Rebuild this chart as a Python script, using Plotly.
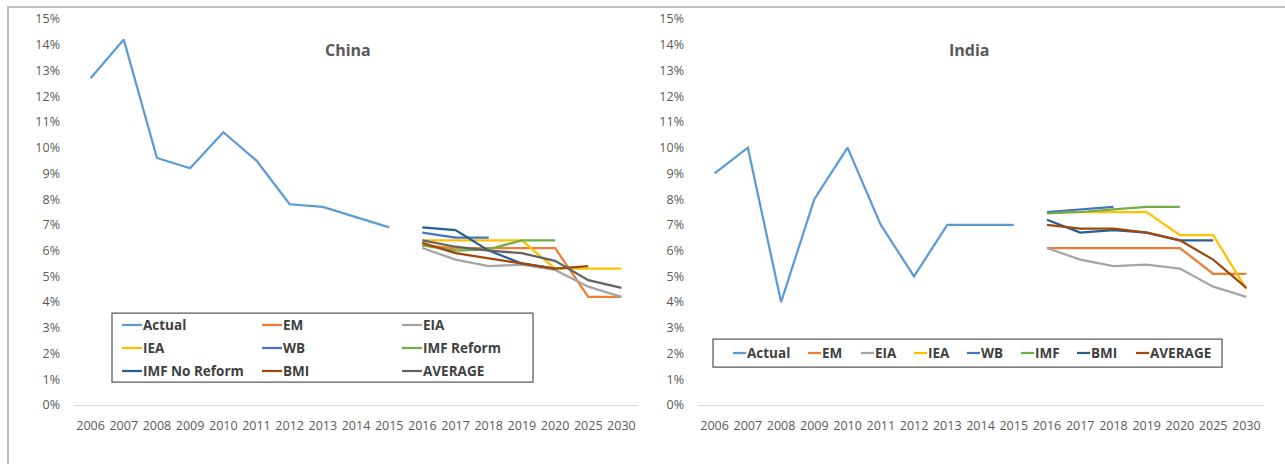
import plotly.graph_objects as go

# ---------------- data ----------------
years = ["2006", "2007", "2008", "2009", "2010", "2011", "2012", "2013", "2014",
         "2015", "2016", "2017", "2018", "2019", "2020", "2025", "2030"]
hist_years = years[:10]
fc_years = years[10:]

# China (growth, %)
china_actual = [12.7, 14.2, 9.6, 9.2, 10.6, 9.5, 7.8, 7.7, 7.3, 6.9]
china_em = [6.2, 6.1, 6.1, 6.1, 6.1, 4.2, 4.2]
china_eia = [6.1, 5.65, 5.4, 5.45, 5.25, 4.6, 4.2]
china_iea = [6.4, 6.4, 6.4, 6.4, 5.3, 5.3, 5.3]
china_wb = [6.7, 6.5, 6.5, None, None, None, None]
china_imf_reform = [6.2, 6.0, 6.05, 6.4, 6.4, None, None]
china_imf_noreform = [6.9, 6.8, 6.0, 5.5, 5.3, None, None]
china_bmi = [6.3, 5.9, 5.7, 5.5, 5.3, 5.4, None]
china_average = [6.4, 6.15, 6.0, 5.9, 5.6, 4.85, 4.55]

# India (growth, %)
india_actual = [9.0, 10.0, 4.0, 8.0, 10.0, 7.0, 5.0, 7.0, 7.0, 7.0]
india_em = [6.1, 6.1, 6.1, 6.1, 6.1, 5.1, 5.1]
india_eia = [6.1, 5.65, 5.4, 5.45, 5.3, 4.6, 4.2]
india_iea = [7.5, 7.5, 7.5, 7.5, 6.6, 6.6, 4.5]
india_wb = [7.5, 7.6, 7.7, None, None, None, None]
india_imf = [7.45, 7.5, 7.6, 7.7, 7.7, None, None]
india_bmi = [7.2, 6.7, 6.8, 6.7, 6.4, 6.4, None]
india_average = [7.0, 6.85, 6.85, 6.7, 6.4, 5.65, 4.55]

china_names = ["Actual", "EM", "EIA", "IEA", "WB", "IMF Reform",
               "IMF No Reform", "BMI", "AVERAGE"]
india_names = ["Actual", "EM", "EIA", "IEA", "WB", "IMF", "BMI", "AVERAGE"]

china_colors = ["#5B9BD5", "#ED7D31", "#A5A5A5", "#FFC000", "#4472C4",
                "#70AD47", "#255E91", "#9E480E", "#636363"]
india_colors = ["#5B9BD5", "#ED7D31", "#A5A5A5", "#FFC000", "#4472C4",
                "#70AD47", "#255E91", "#9E480E"]

y_ticks = list(range(0, 16))
y_ticktext = [f"{t}%" for t in y_ticks]

# ---------------- layout helpers ----------------
W, H = 1285, 464


def px(x):
    return x / W


def py(y):
    return 1 - y / H


FONT = "Open Sans"
TXT = "#595959"

fig = go.Figure()

china_series = [(hist_years, china_actual), (fc_years, china_em),
                (fc_years, china_eia), (fc_years, china_iea),
                (fc_years, china_wb), (fc_years, china_imf_reform),
                (fc_years, china_imf_noreform), (fc_years, china_bmi),
                (fc_years, china_average)]
india_series = [(hist_years, india_actual), (fc_years, india_em),
                (fc_years, india_eia), (fc_years, india_iea),
                (fc_years, india_wb), (fc_years, india_imf),
                (fc_years, india_bmi), (fc_years, india_average)]

for name, color, (xs, ys) in zip(china_names, china_colors, china_series):
    fig.add_trace(go.Scatter(x=xs, y=ys, mode="lines", name=name,
                             line=dict(color=color, width=2.25),
                             xaxis="x", yaxis="y", showlegend=False))
for name, color, (xs, ys) in zip(india_names, india_colors, india_series):
    fig.add_trace(go.Scatter(x=xs, y=ys, mode="lines", name=name,
                             line=dict(color=color, width=2.25),
                             xaxis="x2", yaxis="y2", showlegend=False))

tickfont = dict(family=FONT, size=12.5, color=TXT)
xcommon = dict(type="category", categoryorder="array", categoryarray=years,
               range=[-0.5, len(years) - 0.5], automargin=False,
               showgrid=False, showline=True, linecolor="#D9D9D9",
               linewidth=1, ticks="", tickfont=tickfont,
               ticklabelstandoff=9, zeroline=False, fixedrange=True)
ycommon = dict(range=[0, 15], tickvals=y_ticks, ticktext=y_ticktext,
               automargin=False,
               showgrid=False, showline=False, zeroline=False, ticks="",
               tickfont=tickfont, ticklabelstandoff=13, fixedrange=True)

shapes = []
annotations = []

# outer chart border (top + left visible)
shapes.append(dict(type="rect", xref="paper", yref="paper",
                   x0=px(8), x1=px(W + 20), y0=py(H + 20), y1=py(7),
                   line=dict(color="#BFBFBF", width=2), layer="below"))

# titles
annotations.append(dict(text="China", x=px(348), y=py(50), xref="paper",
                        yref="paper", showarrow=False, xanchor="center",
                        yanchor="middle",
                        font=dict(family=FONT, size=16, color=TXT,
                                  weight="bold")))
annotations.append(dict(text="India", x=px(969), y=py(50), xref="paper",
                        yref="paper", showarrow=False, xanchor="center",
                        yanchor="middle",
                        font=dict(family=FONT, size=16, color=TXT,
                                  weight="bold")))

legfont = dict(family=FONT, size=13.5, color="#404040", weight="bold")

# China legend (3 x 3 grid)
shapes.append(dict(type="rect", xref="paper", yref="paper",
                   x0=px(112), x1=px(533), y0=py(382), y1=py(313),
                   line=dict(color="#595959", width=1.25),
                   fillcolor="white", layer="above"))
col_x = [122, 262, 402]
row_y = [325, 348, 371]
for i, (name, color) in enumerate(zip(china_names, china_colors)):
    lx = col_x[i % 3]
    ly = row_y[i // 3]
    shapes.append(dict(type="line", xref="paper", yref="paper",
                       x0=px(lx), x1=px(lx + 20), y0=py(ly), y1=py(ly),
                       line=dict(color=color, width=2.25)))
    annotations.append(dict(text=name, x=px(lx + 19), y=py(ly),
                            xref="paper", yref="paper", showarrow=False,
                            xanchor="left", yanchor="middle", font=legfont))

# India legend (one row)
shapes.append(dict(type="rect", xref="paper", yref="paper",
                   x0=px(713), x1=px(1222), y0=py(367), y1=py(339),
                   line=dict(color="#595959", width=1.25),
                   fillcolor="white", layer="above"))
india_leg_x = [733, 808, 861, 914, 967, 1021, 1077, 1136]
for name, color, lx in zip(india_names, india_colors, india_leg_x):
    ly = 353
    shapes.append(dict(type="line", xref="paper", yref="paper",
                       x0=px(lx), x1=px(lx + 13), y0=py(ly), y1=py(ly),
                       line=dict(color=color, width=2.25)))
    annotations.append(dict(text=name, x=px(lx + 12), y=py(ly),
                            xref="paper", yref="paper", showarrow=False,
                            xanchor="left", yanchor="middle", font=legfont))

fig.update_layout(
    width=W, height=H, autosize=False,
    margin=dict(l=0, r=0, t=0, b=0, pad=0, autoexpand=False),
    paper_bgcolor="white", plot_bgcolor="white",
    showlegend=False,
    xaxis=dict(domain=[px(74), px(638)], anchor="y", **xcommon),
    yaxis=dict(domain=[py(405), py(19)], anchor="x", **ycommon),
    xaxis2=dict(domain=[px(698), px(1263)], anchor="y2", **xcommon),
    yaxis2=dict(domain=[py(405), py(19)], anchor="x2", **ycommon),
    shapes=shapes,
    annotations=annotations,
)

post = ("document.documentElement.style.margin='0';"
        "document.body.style.margin='0';"
        "document.body.style.overflow='hidden';"
        "var gd=document.getElementById('{plot_id}');"
        "gd.style.position='fixed';gd.style.left='0px';gd.style.top='0px';")
fig.write_html("out.html", config={"displayModeBar": False},
               post_script=post)
